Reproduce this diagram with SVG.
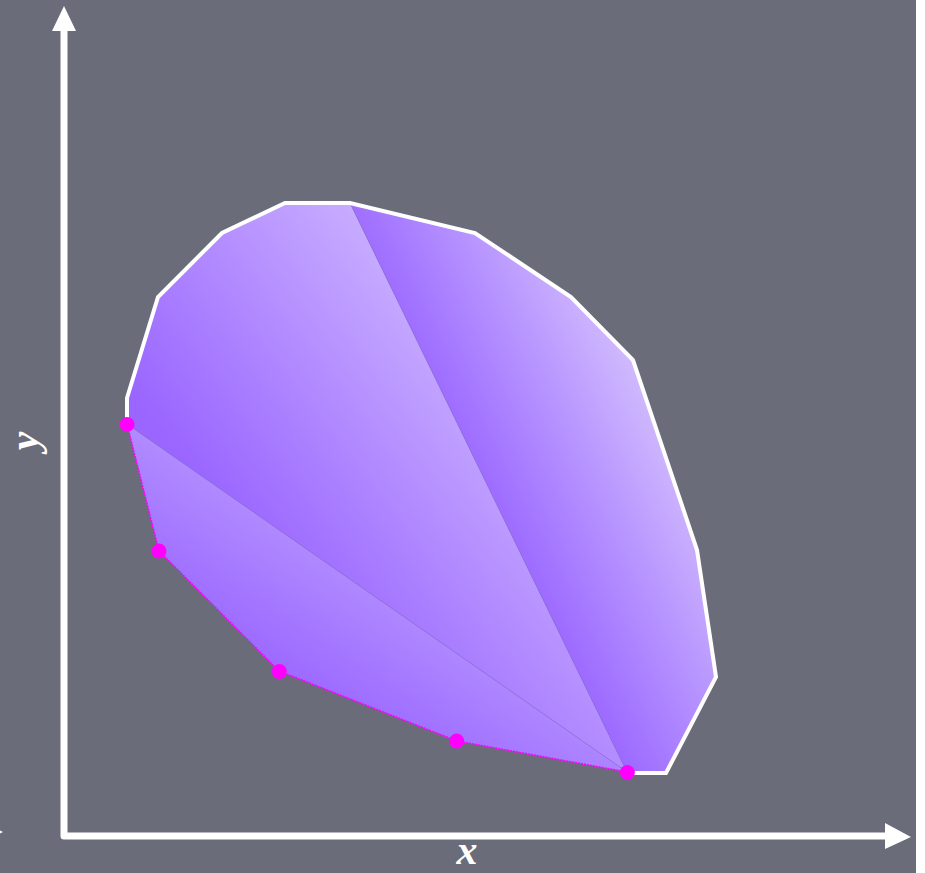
<svg xmlns="http://www.w3.org/2000/svg" width="925" height="873" viewBox="0 0 925 873">
<defs>
<style>
.axis{fill:none;stroke:#fff;stroke-width:7;stroke-linejoin:round}
.head{fill:#fff}
.lbl{font-family:"Liberation Serif","DejaVu Serif",serif;font-style:italic;font-weight:bold;font-size:42px;fill:#fff}
.hull{fill:none;stroke:#fff;stroke-width:4;stroke-linejoin:miter}
.inner{fill:none;stroke:#8a6ad8;stroke-width:1;stroke-opacity:0.6}
.chain{fill:none;stroke:#ff00ff;stroke-width:1.6;stroke-dasharray:2 1}
.pt{fill:#ff00ff}
</style>
<linearGradient id="g1" gradientUnits="userSpaceOnUse" x1="300" y1="700" x2="390" y2="560">
<stop offset="0" stop-color="#9a66ff"/>
<stop offset="1" stop-color="#b592ff"/>
</linearGradient>
<linearGradient id="g2" gradientUnits="userSpaceOnUse" x1="200" y1="480" x2="470" y2="270">
<stop offset="0" stop-color="#9a66ff"/>
<stop offset="1" stop-color="#d0b9ff"/>
</linearGradient>
<linearGradient id="g3" gradientUnits="userSpaceOnUse" x1="455" y1="455" x2="670" y2="345">
<stop offset="0" stop-color="#9a66ff"/>
<stop offset="0.45" stop-color="#b693ff"/>
<stop offset="1" stop-color="#dccbfd"/>
</linearGradient>
</defs>
<rect x="0" y="0" width="925" height="873" fill="#ffffff"/>
<rect x="0" y="0" width="916" height="873" fill="#6a6c7a"/>

<g id="axes">
<path class="axis" d="M64,31 V836 H886"/>
<polygon class="head" points="64,6 52,31 76,31"/>
<polygon class="head" points="911,837 885,823 885,849"/>
<path d="M0,830.5 L3,832 L0,833.5 Z" fill="#fff"/>
</g>
<g id="labels">
<text class="lbl" x="467" y="864" text-anchor="middle">x</text>
<text class="lbl" transform="translate(38,441) rotate(-90)" text-anchor="middle">y</text>
</g>

<g id="region1">
<polygon fill="url(#g1)" points="127,424 159,551 279,671 457,741 627,772"/>
</g>
<g id="region2">
<polygon fill="url(#g2)" points="127,424 127,398 158,297 222,233 285,203 350,203 627,772"/>
</g>
<g id="region3">
<polygon fill="url(#g3)" points="350,203 475,233 571,297 633,360 697,550 716,677 666,772 627,772"/>
</g>

<g id="connectors">
<line class="inner" x1="127" y1="424" x2="627" y2="772"/>
<line class="inner" x1="350" y1="203" x2="627" y2="772"/>
<polyline class="hull" points="127,424 127,398 158,297 222,233 285,203 350,203 475,233 571,297 633,360 697,550 716,677 666,773 627,773"/>
<polyline class="chain" points="127,424 159,551 279,671 457,741 627,772"/>
</g>

<g id="points">
<circle class="pt" cx="127" cy="424.5" r="7.5"/>
<circle class="pt" cx="159" cy="551" r="7.5"/>
<circle class="pt" cx="279.3" cy="671.5" r="7.5"/>
<circle class="pt" cx="456.7" cy="741" r="7.5"/>
<circle class="pt" cx="627.3" cy="772.5" r="7.5"/>
</g>
</svg>
